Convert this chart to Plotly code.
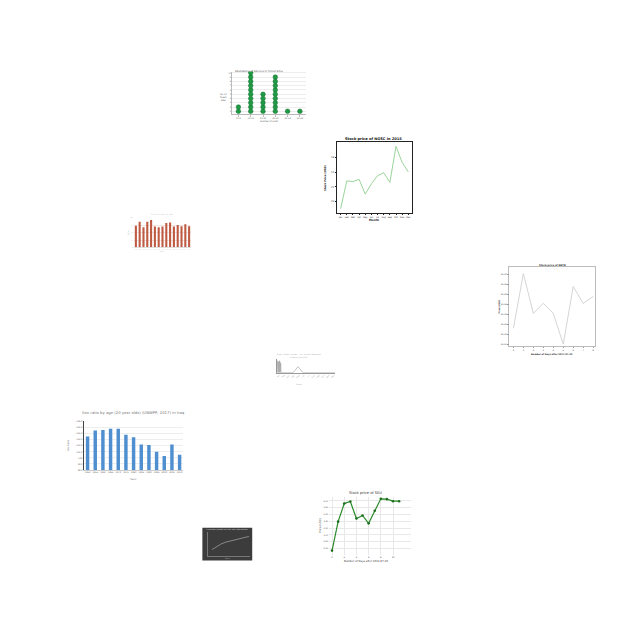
import plotly.graph_objects as go

W = 640.0

def xd(a, b):
    return [a / W, b / W]

def yd(top, bot):
    return [1 - bot / W, 1 - top / W]

def px(x):
    return x / W

def py(y):
    return 1 - y / W

# ---------------- data ----------------
# Panel 1: dot (stacked pictogram) chart
dot_cats = ["0-10", "10-20", "20-30", "30-40", "40-50", "50-60"]
dot_counts = [2, 10, 5, 9, 1, 1]

# Panel 2: NGSC stock price 2015
ngsc_months = ["Jan", "Feb", "Mar", "Apr", "May", "Jun", "Jul", "Aug", "Sep", "Oct", "Nov", "Dec"]
ngsc_price = [39.0, 42.8, 42.7, 43.0, 41.0, 42.4, 43.5, 43.9, 42.6, 47.5, 45.3, 44.0]

# Panel 3: red bars
red_cats = [str(y) for y in range(2000, 2015)]
red_vals = [73, 86, 68, 86, 92, 70, 68, 70, 82, 84, 70, 75, 71, 78, 71]

# Panel 4: grey line stock
grey_days = [0, 1, 2, 3, 4, 5, 6, 7, 8]
grey_price = [92.616, 92.671, 92.631, 92.641, 92.631, 92.600, 92.658, 92.641, 92.648]

# Panel 5: sketchy line chart
sketch_x = [0, 0.5, 1, 1.5, 2, 2.5, 3, 3.5, 4, 16, 21, 26, 58]
sketch_y = [0, 12, 0, 11, 0, 12, 0, 10, 0, 0, 6, 0, 0]
sketch_ticks = [2, 7, 12, 17, 22, 27, 32, 37, 42, 47, 52, 57]
sketch_labels = ["Jan", "Feb", "Mar", "Apr", "May", "Jun", "Jul", "Aug", "Sep", "Oct", "Nov", "Dec"]

# Panel 6: blue bars (sex ratio)
blue_years = [str(y) for y in range(1950, 2015, 5)]
blue_vals = [103.5, 104.5, 104.6, 104.8, 104.8, 103.8, 103.4, 102.2, 102.1, 101.0, 100.3, 102.2, 100.5]

# Panel 7: dark chart
dark_x = [0, 1, 2, 3, 4, 5, 6, 7, 8]
dark_y = [2.0, 3.0, 3.9, 4.5, 4.9, 5.2, 5.6, 6.0, 6.4]

# Panel 8: SEU stock price
seu_days = [0, 1, 2, 3, 4, 5, 6, 7, 8, 9, 10, 11]
seu_price = [2.54, 3.39, 3.92, 3.98, 3.48, 3.57, 3.34, 3.71, 4.06, 4.05, 3.99, 3.99]

fig = go.Figure()
layout = dict(
    width=640, height=640,
    margin=dict(l=0, r=0, t=0, b=0),
    paper_bgcolor="white", plot_bgcolor="rgba(0,0,0,0)",
    showlegend=False,
    font=dict(family="DejaVu Sans", size=3, color="#555"),
)
annotations = []
shapes = []

def ann(x, y, text, size=3, color="#555", bold=False, angle=0, xanchor="center", family="DejaVu Sans"):
    if bold:
        text = "<b>" + text + "</b>"
    annotations.append(dict(x=px(x), y=py(y), xref="paper", yref="paper", text=text,
                            showarrow=False, font=dict(size=size, color=color, family=family),
                            textangle=angle, xanchor=xanchor, yanchor="middle"))

def tc(size=2.6, color="#555"):
    return dict(tickfont=dict(size=size, color=color), ticklen=1.5, tickwidth=0.4, zeroline=False)

# ---------- Panel 1 ----------
xs, ys = [], []
for i, c in enumerate(dot_counts):
    for k in range(1, c + 1):
        xs.append(i)
        ys.append(k)
fig.add_trace(go.Scatter(x=xs, y=ys, mode="markers", xaxis="x", yaxis="y",
                         marker=dict(size=4.6, color="#1f9a45", line=dict(width=0.5, color="#13702e"))))
layout["xaxis"] = dict(domain=xd(231, 305), anchor="y", range=[-0.5, 5.5], tickvals=list(range(6)),
                       ticktext=dot_cats, tickangle=0, showgrid=False, showline=True, linecolor="#bbb",
                       linewidth=0.5, ticks="outside", tickcolor="#bbb", **tc(2.2, "#666"))
layout["yaxis"] = dict(domain=yd(70, 113), anchor="x", range=[0.3, 10.3], tickvals=list(range(0, 11)),
                       showgrid=True, gridcolor="#eee", gridwidth=0.4, showline=True, linecolor="#bbb",
                       linewidth=0.5, ticks="", **tc(2.0, "#666"))
ann(258, 70, "Abundance of Species in Forest Sites", size=2.6)
ann(268, 120, "Number of visits", size=2.2)
ann(222, 96, "No. of<br>forest<br>sites", size=2.2)

# ---------- Panel 2 ----------
fig.add_trace(go.Scatter(x=list(range(12)), y=ngsc_price, mode="lines", xaxis="x2", yaxis="y2",
                         line=dict(color="#8fce8f", width=0.9)))
layout["xaxis2"] = dict(domain=xd(336, 411), anchor="y2", range=[-0.6, 11.55], tickvals=list(range(12)),
                        ticktext=ngsc_months, tickangle=0, showgrid=False, showline=True, mirror=True,
                        linecolor="#222", linewidth=0.6, ticks="outside", tickcolor="#222", **tc(2.2, "#222"))
layout["yaxis2"] = dict(domain=yd(141, 212), anchor="x2", range=[38.47, 48.07], tickvals=[40, 42, 44, 46],
                        showgrid=False, showline=True, mirror=True, linecolor="#222", linewidth=0.6,
                        ticks="outside", tickcolor="#222", **tc(2.4, "#222"))
ann(373, 138, "Stock price of NGSC in 2015", size=3.6, color="#111", bold=True)
ann(373, 219, "Month", size=2.8, color="#111", bold=True)
ann(325, 177, "Stock Price (USD)", size=2.6, color="#111", bold=True, angle=-90)

# ---------- Panel 3 ----------
fig.add_trace(go.Bar(x=list(range(15)), y=red_vals, xaxis="x3", yaxis="y3",
                     marker=dict(color="#bf5a43", line=dict(width=0)), width=0.55))
layout["xaxis3"] = dict(domain=xd(132, 190), anchor="y3", range=[-0.6, 14.6], tickvals=list(range(15)),
                        ticktext=red_cats, tickangle=0, showgrid=False, showline=True, linecolor="#ddd",
                        linewidth=0.4, ticks="", **tc(1.2, "#bbb"))
layout["yaxis3"] = dict(domain=yd(217, 247), anchor="x3", range=[0, 100], tickvals=[0, 25, 50, 75, 100],
                        showgrid=True, gridcolor="#f1e6e3", gridwidth=0.4, showline=False,
                        ticks="", **tc(1.4, "#bbb"))
ann(161, 214, "Annual values by year", size=2, color="#ccc")
ann(161, 251, "Year", size=1.8, color="#bbb")
ann(127, 232, "Value", size=1.8, color="#bbb", angle=-90)

# ---------- Panel 4 ----------
fig.add_trace(go.Scatter(x=grey_days, y=grey_price, mode="lines", xaxis="x4", yaxis="y4",
                         line=dict(color="#cfcfcf", width=0.9)))
layout["xaxis4"] = dict(domain=xd(509, 595), anchor="y4", range=[-0.4, 8.2], tickvals=grey_days,
                        tickangle=0, showgrid=False, showline=True, mirror=True, linecolor="#bbb",
                        linewidth=0.6, ticks="outside", tickcolor="#999", **tc(2.2, "#444"))
layout["yaxis4"] = dict(domain=yd(267, 346), anchor="x4", range=[92.5983, 92.6773],
                        tickvals=[92.60, 92.61, 92.62, 92.63, 92.64, 92.65, 92.66, 92.67], tickformat=".2f",
                        showgrid=False, showline=True, mirror=True, linecolor="#bbb", linewidth=0.6,
                        ticks="outside", tickcolor="#999", **tc(2.0, "#444"))
ann(552, 265, "Stock price of NKTR", size=2.4, color="#222", bold=True)
ann(552, 355, "Number of Days after 2017-07-20", size=2.2, color="#222", bold=True)
ann(499, 307, "Price(USD)", size=2.2, color="#222", bold=True, angle=-90)

# ---------- Panel 5 ----------
fig.add_trace(go.Scatter(x=sketch_x, y=sketch_y, mode="lines", xaxis="x5", yaxis="y5",
                         line=dict(color="#999", width=0.6)))
layout["xaxis5"] = dict(domain=xd(276, 334), anchor="y5", range=[0, 58], tickvals=sketch_ticks,
                        ticktext=sketch_labels, tickangle=-45, showgrid=False, showline=True,
                        linecolor="#999", linewidth=0.5, ticks="", **tc(2.0, "#aaa"))
layout["yaxis5"] = dict(domain=yd(359, 373), anchor="x5", range=[0, 14], showticklabels=False,
                        showgrid=False, showline=True, linecolor="#999", linewidth=0.5, zeroline=False)
ann(298, 355, "Profit - Month / Income - Tax / Income Statement", size=1.8, color="#aaa")
ann(298, 358, "Financial year 2015", size=1.8, color="#aaa")
ann(298, 385, "Month", size=1.8, color="#aaa")

# ---------- Panel 6 ----------
fig.add_trace(go.Bar(x=list(range(13)), y=blue_vals, xaxis="x6", yaxis="y6",
                     marker=dict(color="#4f8fd0", line=dict(width=0)), width=0.45))
layout["xaxis6"] = dict(domain=xd(82, 182), anchor="y6", range=[-0.5, 12.5], tickvals=list(range(13)),
                        ticktext=blue_years, tickangle=0, showgrid=False, showline=True, linecolor="#ccc",
                        linewidth=0.5, ticks="", **tc(2.2, "#666"))
layout["yaxis6"] = dict(domain=yd(422, 471), anchor="x6", range=[98, 106], tickvals=list(range(98, 107)),
                        ticktext=["98.0", "99.0", "100", "101.0", "102.0", "103.0", "104.0", "105.0", "106.0"],
                        showgrid=True, gridcolor="#eee", gridwidth=0.4, showline=True, linecolor="#444",
                        linewidth=0.6, ticks="", **tc(2.2, "#666"))
ann(132, 413, "Sex ratio by age (20 year olds) (UNWPP, 2017) in Iraq", size=3.8, color="#777")
ann(132, 481, "Years", size=2.4, color="#777")
ann(66, 446, "Sex Ratio", size=2.4, color="#777", angle=-90)

# ---------- Panel 7 ----------
shapes.append(dict(type="rect", xref="paper", yref="paper", x0=px(201), x1=px(251), y0=py(562), y1=py(529),
                   fillcolor="#3c3c3c", line=dict(width=0), layer="below"))
fig.add_trace(go.Scatter(x=dark_x, y=dark_y, mode="lines", xaxis="x7", yaxis="y7",
                         line=dict(color="#bbbbbb", width=0.6)))
layout["xaxis7"] = dict(domain=xd(207, 249), anchor="y7", range=[-0.8, 8.3], showticklabels=False,
                        showgrid=False, showline=True, linecolor="#777", linewidth=0.5, zeroline=False)
layout["yaxis7"] = dict(domain=yd(533, 557), anchor="x7", range=[0, 8], showticklabels=False,
                        showgrid=False, showline=True, linecolor="#777", linewidth=0.5, zeroline=False)
ann(226, 531, "Cumulative growth over the last eight months", size=1.8, color="#ddd")
ann(226, 560, "Month", size=1.6, color="#bbb")

# ---------- Panel 8 ----------
fig.add_trace(go.Scatter(x=seu_days, y=seu_price, mode="lines+markers", xaxis="x8", yaxis="y8",
                         line=dict(color="#2b8a2b", width=1.2), marker=dict(size=2.6, color="#1f6f1f")))
layout["xaxis8"] = dict(domain=xd(328, 410), anchor="y8", range=[-0.5, 12.9], tickvals=[0, 2, 4, 6, 8, 10],
                        tickangle=0, showgrid=True, gridcolor="#e8e8e8", gridwidth=0.4, showline=False,
                        ticks="", **tc(2.2, "#444"))
layout["yaxis8"] = dict(domain=yd(498, 556), anchor="x8", range=[2.425, 4.116],
                        tickvals=[2.6, 2.8, 3.0, 3.2, 3.4, 3.6, 3.8, 4.0], tickformat=".2f",
                        showgrid=True, gridcolor="#e8e8e8", gridwidth=0.4, showline=False, ticks="",
                        **tc(2.0, "#444"))
ann(365, 494, "Stock price of SEU", size=3.6, color="#333")
ann(365, 563, "Number of Days after 2013-07-20", size=2.6, color="#333")
ann(320, 527, "Price (USD)", size=2.6, color="#333", angle=-90)

layout["annotations"] = annotations
layout["shapes"] = shapes
fig.update_layout(**layout)
fig.write_html("out.html")
